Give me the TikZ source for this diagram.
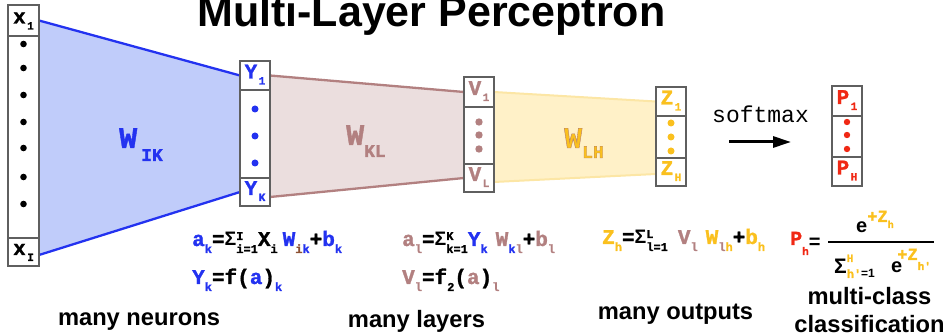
\documentclass[tikz,border=0pt]{standalone}
\usepackage{fontspec}
\setmainfont{Liberation Sans}
\setsansfont{Liberation Sans}
\setmonofont{Liberation Mono}[BoldFeatures={FakeBold=1.3}]
\usetikzlibrary{arrows.meta,backgrounds}
\definecolor{cblue}{RGB}{35,50,240}
\definecolor{cbluefill}{RGB}{192,204,250}
\definecolor{cbrown}{RGB}{178,128,128}
\definecolor{cbrownfill}{RGB}{235,222,222}
\definecolor{cyel}{RGB}{250,192,30}
\definecolor{cyelfill}{RGB}{255,241,200}
\definecolor{cyeledge}{RGB}{252,230,165}
\definecolor{cred}{RGB}{240,40,20}
\definecolor{cgray}{RGB}{95,95,95}
\definecolor{cdkbrown}{RGB}{140,80,50}
\newcommand\colB[1]{\textcolor{cblue}{#1}}
\newcommand\colW[1]{\textcolor{cbrown}{#1}}
\newcommand\colY[1]{\textcolor{cyel}{#1}}
\newcommand\colP[1]{\textcolor{cred}{#1}}
\newcommand\FF{\fontsize{21}{21}\selectfont\ttfamily\bfseries}
\newcommand\Fs[1]{\raisebox{-7pt}{\fontsize{12}{12}\selectfont\ttfamily\bfseries #1}}
\newcommand\Fp[1]{\raisebox{6pt}{\fontsize{12}{12}\selectfont\ttfamily\bfseries #1}}
\newcommand\Sig{{\fontsize{19.5}{19.5}\selectfont\sffamily\bfseries Σ}}
\newcommand\cl[2]{{\fontsize{21}{21}\selectfont\ttfamily\bfseries #1}\hspace{1.5pt}\raisebox{-6pt}{\fontsize{11}{11}\selectfont\ttfamily\bfseries #2}}
\begin{document}
\begin{tikzpicture}[x=1pt,y=-1pt,
  cell/.style={draw=cgray, line width=1.3pt, fill=white, minimum width=30pt, inner sep=0pt, outer sep=0pt, text height=12pt, text depth=6pt},
  fml/.style={anchor=base west, inner sep=0pt},
  lbl/.style={anchor=base, inner sep=0pt, font=\fontsize{23.7}{23.7}\selectfont\bfseries},
  wlab/.style={anchor=base west, inner sep=0pt}]
\useasboundingbox (0,0) rectangle (946,336);
% title
\node[anchor=base west, inner sep=0pt, font=\fontsize{43}{43}\selectfont\bfseries] (title) at (197,27) {Multi-Layer Perceptron};
% input column
\node[cell, minimum width=31pt, minimum height=31pt] (x1) at (23.5,20.5) {\cl{x}{1}};
\node[cell, minimum width=31pt, minimum height=202pt] (xm) at (23.5,137) {};
\node[cell, minimum width=31pt, minimum height=28pt] (xI) at (23.5,252) {\cl{x}{I}};
% Y column
\node[cell, minimum height=29pt] (Y1) at (255,75.5) {\colB{\cl{Y}{1}}};
\node[cell, minimum height=88pt] (Ym) at (255,134) {};
\node[cell, minimum height=28pt] (YK) at (255,192) {\colB{\cl{Y}{K}}};
% V column
\node[cell, minimum height=30pt] (V1) at (479,92) {\colW{\cl{V}{1}}};
\node[cell, minimum height=57pt] (Vm) at (479,135.5) {};
\node[cell, minimum height=28pt] (VL) at (479,178) {\colW{\cl{V}{L}}};
% Z column
\node[cell, minimum height=29pt] (Z1) at (671,101.5) {\colY{\cl{Z}{1}}};
\node[cell, minimum height=42pt] (Zm) at (671,137) {};
\node[cell, minimum height=28pt] (ZH) at (671,172) {\colY{\cl{Z}{H}}};
% P column
\node[cell, minimum height=30pt] (P1) at (847,101) {\colP{\cl{P}{1}}};
\node[cell, minimum height=41pt] (Pm) at (847,136.5) {};
\node[cell, minimum height=29pt] (PH) at (847,171.5) {\colP{\cl{P}{H}}};
% trapezoids
\begin{pgfonlayer}{background}
\fill[cbluefill] (x1.east) -- (Y1.west) -- (YK.west) -- ([yshift=-3pt]xI.east) -- cycle;
\fill[cbrownfill] (Y1.east) -- (V1.west) -- (VL.west) -- ([yshift=-5pt]YK.east) -- cycle;
\fill[cyelfill] (V1.east) -- (Z1.west) -- ([yshift=-2pt]ZH.west) -- ([yshift=-4pt]VL.east) -- cycle;
\draw[cblue, line width=2.3pt] (x1.east) -- (Y1.west);
\draw[cblue, line width=2.3pt] ([yshift=-3pt]xI.east) -- (YK.west);
\draw[cbrown, line width=2.3pt] (Y1.east) -- (V1.west);
\draw[cbrown, line width=2.3pt] ([yshift=-5pt]YK.east) -- (VL.west);
\draw[cyeledge, line width=2pt] (V1.east) -- (Z1.west);
\draw[cyeledge, line width=2pt] ([yshift=-4pt]VL.east) -- ([yshift=-2pt]ZH.west);
\end{pgfonlayer}
% dots
\foreach \yy in {44,68,95,122,148,177,204} \fill[black] (23.5,\yy) circle (3.3pt);
\foreach \yy in {109,136,163} \fill[cblue] (255,\yy) circle (3.5pt);
\foreach \yy in {122,135,149} \fill[cbrown] (479,\yy) circle (3.7pt);
\foreach \yy in {123,137,151} \fill[cyel] (671,\yy) circle (3.5pt);
\foreach \yy in {122,135,149} \fill[cred] (847,\yy) circle (3.2pt);
% weight labels
\node[wlab] (wik) at (119,148) {\fontsize{30}{30}\selectfont\ttfamily\bfseries\colB{W\hspace{4pt}\raisebox{-13pt}{\fontsize{18}{18}\selectfont IK}}};
\node[wlab] (wkl) at (346,145) {\fontsize{30}{30}\selectfont\ttfamily\bfseries\colW{W\raisebox{-12pt}{\fontsize{18}{18}\selectfont KL}}};
\node[wlab] (wlh) at (564,148) {\fontsize{30}{30}\selectfont\ttfamily\bfseries\color{cyel}\special{pdf:literal direct 2 Tr 0.8 w 0.7 0.48 0.42 RG}W\raisebox{-10pt}{\fontsize{18}{18}\selectfont LH}\special{pdf:literal direct 0 Tr}};
% softmax
\node[fml] (smx) at (712,123) {\fontsize{23}{23}\selectfont\ttfamily softmax};
\coordinate (sa) at (729,142);
\coordinate (sb) at (791,142);
\draw[line width=3pt, -{Triangle[length=18pt,width=11pt]}] (sa) -- (sb);
% formulas
\node[fml] (f1a) at (192,246) {\FF\colB{a}\colB{\Fs{k}}=\Sig\rlap{\Fp{I}}\Fs{i=1}X\Fs{i}\hspace{5pt}\colB{W}\Fs{\textcolor{cdkbrown}{i}\colB{k}}+\colB{b}\colB{\Fs{k}}};
\node[fml] (f1b) at (192,284) {\FF\colB{Y}\colB{\Fs{k}}=f(\colB{a})\colB{\Fs{k}}};
\node[fml] (f2a) at (402,246) {\FF\colW{a}\colW{\Fs{l}}=\Sig\rlap{\Fp{K}}\Fs{k=1}\colB{Y}\colB{\Fs{k}}\hspace{8pt}\colW{W}\Fs{\colB{k}\colW{l}}+\colW{b}\colW{\Fs{l}}};
\node[fml] (f2b) at (402,284) {\FF\colW{V}\colW{\Fs{l}}=f\Fs{2}(\colW{a})\colW{\Fs{l}}};
\node[fml] (f3a) at (602,244) {\FF\colY{Z}\colY{\Fs{h}}=\Sig\rlap{\Fp{L}}\Fs{l=1}\hspace{10pt}\colW{V}\colW{\Fs{l}}\hspace{8pt}\colY{W}\Fs{\colW{l}\colY{h}}+\colY{b}\colY{\Fs{h}}};
% softmax formula
\node[fml] (ph) at (790,245) {\fontsize{20}{20}\selectfont\ttfamily\bfseries\colP{P}\raisebox{-10pt}{\fontsize{11}{11}\selectfont\colP{h}}\raisebox{-4pt}{\sffamily =}};
\coordinate (barL) at (828,242);
\coordinate (barR) at (934,242);
\draw[line width=2pt] (barL) -- (barR);
\node[fml] (num) at (856,233) {{\fontsize{20}{20}\selectfont\sffamily\bfseries e}\raisebox{11pt}{\colY{\fontsize{17}{17}\selectfont\ttfamily\bfseries +Z}}\raisebox{5pt}{\colY{\fontsize{10}{10}\selectfont\ttfamily\bfseries h}}};
\node[fml] (dsig) at (834,274) {{\fontsize{21}{21}\selectfont\sffamily\bfseries Σ}\rlap{\raisebox{12pt}{\colY{\fontsize{11}{11}\selectfont\ttfamily\bfseries H}}}\raisebox{-4pt}{\colY{\fontsize{12}{12}\selectfont\ttfamily\bfseries h'}{\fontsize{12}{12}\selectfont\sffamily\bfseries =1}}};
\node[fml] (de) at (891,273) {{\fontsize{20}{20}\selectfont\sffamily\bfseries e}\hspace{-5pt}\raisebox{13pt}{\colY{\fontsize{17}{17}\selectfont\ttfamily\bfseries +Z}}\raisebox{3pt}{\colY{\fontsize{11}{11}\selectfont\ttfamily\bfseries h'}}};
% bottom labels
\node[lbl] (l1) at (139,326) {many neurons};
\node[lbl] (l2) at (416.5,328) {many layers};
\node[lbl] (l3) at (675.5,320) {many outputs};
\node[lbl] (l4a) at (869.5,305) {multi-class};
\node[lbl] (l4b) at (869.5,333) {classification};
\end{tikzpicture}
\end{document}
